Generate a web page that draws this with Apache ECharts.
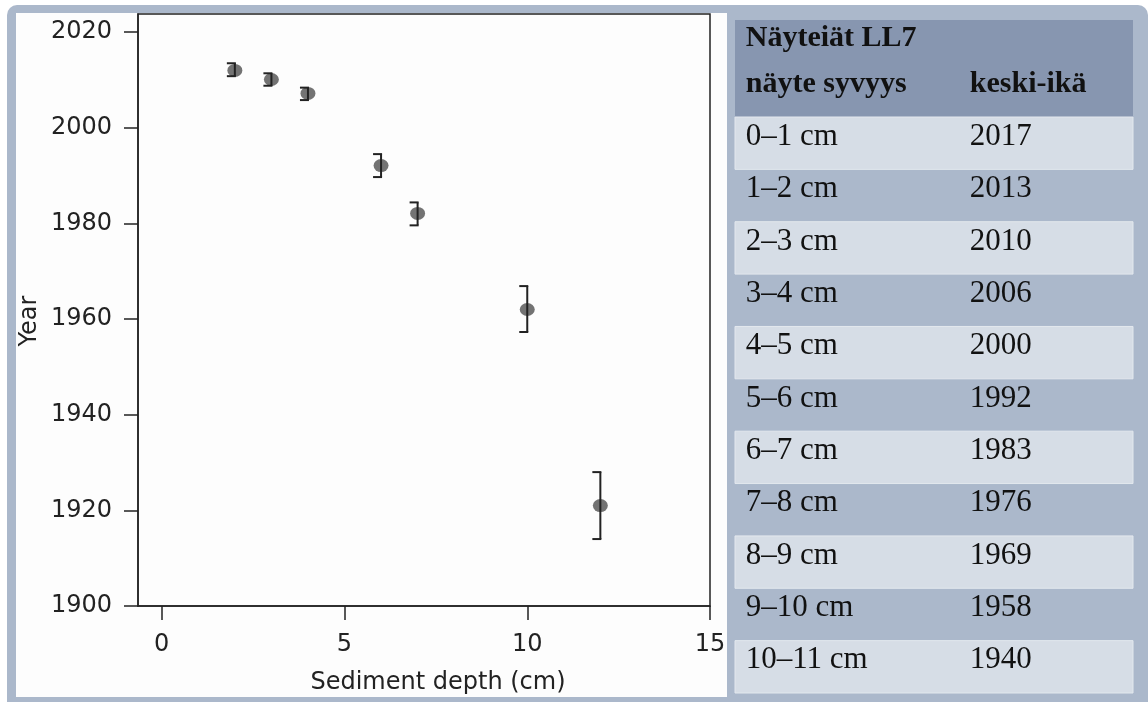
<!DOCTYPE html>
<html><head><meta charset="utf-8">
<script src="https://cdn.jsdelivr.net/npm/echarts@6/dist/echarts.min.js"></script>
<style>html,body{margin:0;padding:0;background:#fff}#c{width:1148px;height:702px}</style>
</head><body><div id="c"></div>
<script>
// ---- data ----
const depth = [2, 3, 4, 6, 7, 10, 12];
const year = [2012.0, 2010.1, 2007.2, 1992.1, 1982.1, 1962.0, 1921.0];
const yearLow = [2010.8, 2008.8, 2005.8, 1989.7, 1979.6, 1957.3, 1914.0];
const yearHigh = [2013.5, 2011.4, 2008.4, 1994.5, 1984.4, 1966.9, 1928.0];
const xTicks = [0, 5, 10, 15];
const yTicks = [1900, 1920, 1940, 1960, 1980, 2000, 2020];
const tableTitle = 'Näyteiät LL7';
const tableHeaders = ['näyte syvyys', 'keski-ikä'];
const headerLines = ['title', 'columns'];
const sampleDepths = ['0–1 cm', '1–2 cm', '2–3 cm', '3–4 cm', '4–5 cm', '5–6 cm', '6–7 cm', '7–8 cm', '8–9 cm', '9–10 cm', '10–11 cm'];
const meanAges = [2017, 2013, 2010, 2006, 2000, 1992, 1983, 1976, 1969, 1958, 1940];

const chart = echarts.init(document.getElementById('c'), null, {renderer: 'canvas'});
const axisColor = '#222';
const sans = 'DejaVu Sans';
const serif = 'Liberation Serif';
const lightRow = '#d6dde6';
const panelBg = '#abb8cb';
const headerBg = '#8796b0';
const plain = v => String(v);

const option = {
  backgroundColor: '#ffffff',
  animation: false,
  graphic: [
    {type: 'rect', z: -100, shape: {x: 7, y: 5, width: 1141, height: 697, r: [10, 10, 0, 0]}, style: {fill: panelBg}},
    {type: 'rect', z: -99, shape: {x: 16, y: 13, width: 711, height: 684}, style: {fill: '#fdfdfd'}}
  ],
  grid: [
    {left: 138, top: 14, width: 572, height: 592, show: true, borderColor: axisColor, borderWidth: 1.5, backgroundColor: 'transparent'},
    {left: 735, top: 20, width: 398, height: 97},
    {left: 735, top: 117, width: 398, height: 576}
  ],
  xAxis: [
    {
      gridIndex: 0, type: 'value', min: -0.65, max: 15,
      axisLine: {show: true, onZero: false, lineStyle: {color: axisColor, width: 1.5}},
      axisTick: {show: true, customValues: xTicks, length: 14, lineStyle: {color: axisColor, width: 1.5}},
      axisLabel: {customValues: xTicks, formatter: plain, fontFamily: sans, fontSize: 24, color: axisColor, margin: 27},
      splitLine: {show: false},
      name: 'Sediment depth (cm)', nameLocation: 'middle', nameGap: 65,
      nameTextStyle: {fontFamily: sans, fontSize: 24, color: axisColor, padding: [0, 0, 0, 28]}
    },
    {gridIndex: 1, type: 'value', min: 0, max: 1, show: false},
    {gridIndex: 2, type: 'value', min: 0, max: 1, show: false}
  ],
  yAxis: [
    {
      gridIndex: 0, type: 'value', min: 1900, max: 2023.8,
      axisLine: {show: true, onZero: false, lineStyle: {color: axisColor, width: 1.5}},
      axisTick: {show: true, customValues: yTicks, length: 14, lineStyle: {color: axisColor, width: 1.5}},
      axisLabel: {customValues: yTicks, formatter: plain, fontFamily: sans, fontSize: 24, color: axisColor, margin: 26},
      splitLine: {show: false},
      name: 'Year', nameLocation: 'middle', nameGap: 96,
      nameTextStyle: {fontFamily: sans, fontSize: 24, color: axisColor, padding: [0, 22, 0, 0]}
    },
    {gridIndex: 1, type: 'category', data: headerLines, inverse: true, show: false},
    {gridIndex: 2, type: 'category', data: sampleDepths, inverse: true, show: false}
  ],
  series: [
    {
      type: 'scatter', xAxisIndex: 0, yAxisIndex: 0, z: 2,
      data: depth.map((d, i) => [d, year[i]]),
      symbol: 'circle', symbolSize: [15, 13],
      itemStyle: {color: '#737373', opacity: 1}
    },
    {
      type: 'custom', xAxisIndex: 0, yAxisIndex: 0, z: 3,
      data: depth.map((d, i) => [d, yearLow[i], yearHigh[i]]),
      encode: {x: 0, y: [1, 2]},
      renderItem: function (params, api) {
        const x = api.value(0);
        const lo = api.coord([x, api.value(1)]);
        const hi = api.coord([x, api.value(2)]);
        const cap = 8;
        const style = {stroke: axisColor, lineWidth: 2, fill: null};
        return {type: 'group', children: [
          {type: 'line', shape: {x1: lo[0], y1: lo[1], x2: hi[0], y2: hi[1]}, style: style},
          {type: 'line', shape: {x1: lo[0] - cap, y1: lo[1], x2: lo[0] + 1, y2: lo[1]}, style: style},
          {type: 'line', shape: {x1: hi[0] - cap, y1: hi[1], x2: hi[0] + 1, y2: hi[1]}, style: style}
        ]};
      }
    },
    {
      type: 'custom', xAxisIndex: 1, yAxisIndex: 1,
      data: headerLines.map((h, i) => [0, i]),
      encode: {x: 0, y: 1},
      renderItem: function (params, api) {
        const cs = params.coordSys;
        const idx = api.value(1);
        const c1 = api.coord([0.027, idx]);
        const c2 = api.coord([0.59, idx]);
        const ts = {fontFamily: serif, fontSize: 30, fontWeight: 'bold', fill: '#111', align: 'left', verticalAlign: 'middle'};
        const children = [];
        if (params.dataIndex === 0) {
          children.push({type: 'rect', z2: 0, shape: {x: cs.x, y: cs.y, width: cs.width, height: cs.height}, style: {fill: headerBg}});
          children.push({type: 'text', z2: 10, x: c1[0], y: c1[1] - 6, style: Object.assign({text: tableTitle}, ts)});
        } else {
          children.push({type: 'text', z2: 10, x: c1[0], y: c1[1] - 9, style: Object.assign({text: tableHeaders[0]}, ts)});
          children.push({type: 'text', z2: 10, x: c2[0], y: c2[1] - 9, style: Object.assign({text: tableHeaders[1]}, ts)});
        }
        return {type: 'group', children: children};
      }
    },
    {
      type: 'custom', xAxisIndex: 2, yAxisIndex: 2,
      data: sampleDepths.map((d, i) => [0, i, meanAges[i]]),
      encode: {x: 0, y: 1},
      renderItem: function (params, api) {
        const cs = params.coordSys;
        const idx = api.value(1);
        const h = api.size([0, 1])[1];
        const c = api.coord([0, idx]);
        const c1 = api.coord([0.027, idx]);
        const c2 = api.coord([0.59, idx]);
        const ts = {fontFamily: serif, fontSize: 31, fill: '#111', align: 'left', verticalAlign: 'middle'};
        const children = [];
        if (idx % 2 === 0) {
          children.push({type: 'rect', z2: 0, shape: {x: cs.x, y: c[1] - h / 2, width: cs.width, height: h}, style: {fill: lightRow, stroke: '#e3e8ee', lineWidth: 1}});
        }
        children.push({type: 'text', z2: 10, x: c1[0], y: c1[1] - 6.5, style: Object.assign({text: sampleDepths[params.dataIndex]}, ts)});
        children.push({type: 'text', z2: 10, x: c2[0], y: c2[1] - 6.5, style: Object.assign({text: String(meanAges[params.dataIndex])}, ts)});
        return {type: 'group', children: children};
      }
    }
  ]
};
chart.setOption(option);
</script>
</body></html>
